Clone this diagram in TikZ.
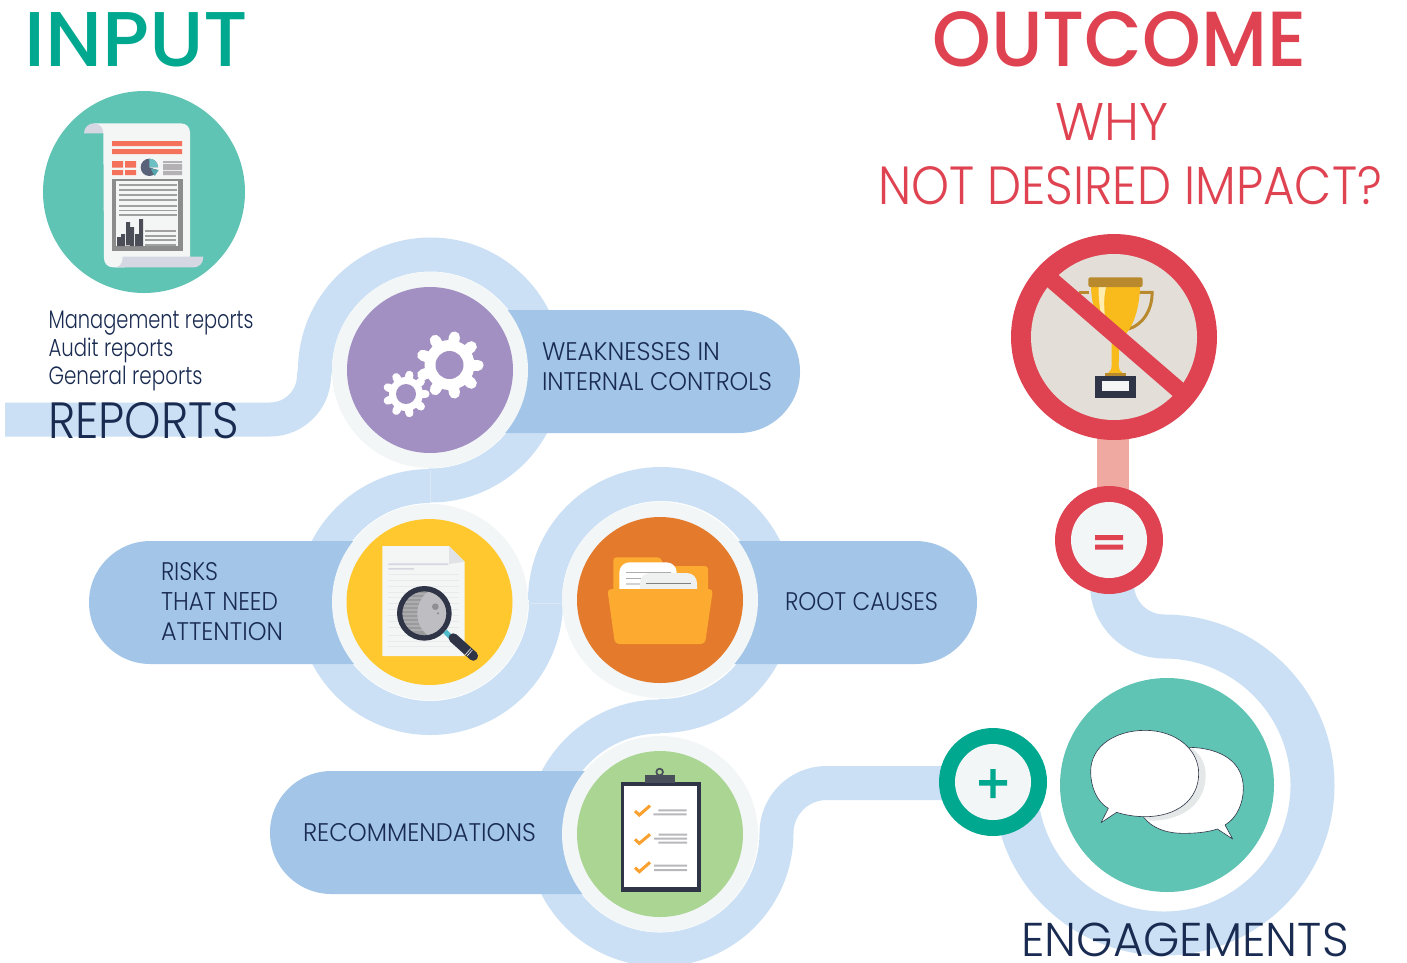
\documentclass[tikz,border=0pt]{standalone}
\usepackage{graphicx}
\usepackage{fontspec}
\setmainfont{Poppins}
\newfontfamily\lightf{Poppins Light}
\newfontfamily\medf{Poppins Medium}
\definecolor{bandc}{HTML}{CBE0F4}
\definecolor{pillc}{HTML}{A2C5E8}
\definecolor{ringc}{HTML}{F2F6F7}
\definecolor{navy}{HTML}{1A2B52}
\definecolor{tealc}{HTML}{60C4B5}
\definecolor{greenc}{HTML}{00A88F}
\definecolor{redc}{HTML}{DF4351}
\definecolor{purplec}{HTML}{A390C2}
\definecolor{yellowc}{HTML}{FFC82E}
\definecolor{orangec}{HTML}{E47A2B}
\definecolor{folderc}{HTML}{FDAA31}
\definecolor{leafc}{HTML}{ABD592}
\definecolor{darkc}{HTML}{2F3447}
\definecolor{paperc}{HTML}{F4F6F6}
\definecolor{curlc}{HTML}{D5D8E2}
\definecolor{coralc}{HTML}{F4715B}
\definecolor{greyc}{HTML}{A0A0A0}
\definecolor{goldc}{HTML}{F9BB1B}
\definecolor{brassc}{HTML}{B98A2D}
\definecolor{checkc}{HTML}{F9A02E}
\definecolor{seamc}{HTML}{DAE7F4}
\definecolor{linkc}{HTML}{F0A9A0}
\definecolor{piedark}{HTML}{5A6279}
\definecolor{pieteal}{HTML}{6CC0C4}
\definecolor{pieteald}{HTML}{55A7AC}
\definecolor{greyb}{HTML}{B3B1B3}
\definecolor{frameg}{HTML}{8C8C8C}
\definecolor{barc}{HTML}{4B4D57}
\definecolor{foldc}{HTML}{E0E2E6}
\definecolor{doclinea}{HTML}{D5D6E0}
\definecolor{doclineb}{HTML}{E8EAEC}
\definecolor{lensa}{HTML}{9A9A9D}
\definecolor{lensb}{HTML}{ADADB0}
\definecolor{lensc}{HTML}{BEBEC2}
\definecolor{lensd}{HTML}{8F8F93}
\definecolor{cyanc}{HTML}{4DBBC9}
\definecolor{foldline}{HTML}{7F8283}
\definecolor{sheetc}{HTML}{EFF1F1}
\definecolor{clipc}{HTML}{4A4F5C}
\definecolor{clipline}{HTML}{B8B8BC}
\definecolor{bandisc}{HTML}{E3DFD8}
\definecolor{shinec}{HTML}{FFEDB0}
\definecolor{shadowc}{HTML}{E4E8E8}
\tikzset{
  disc/.style={circle,inner sep=0pt,minimum size=#1,draw=none},
  bandline/.style={draw=bandc,line width=34pt,line cap=butt},
  pill/.style={rectangle,fill=pillc,rounded corners=61.4pt,minimum height=123pt,inner sep=0pt,draw=none},
  lbl/.style={anchor=base west,inner sep=0pt,outer sep=0pt},
  pilltext/.style={lbl,text=navy},
  px3/.style={x=0.33333pt,y=-0.33333pt}
}
\begin{document}
\begin{tikzpicture}[x=1pt,y=-1pt]
\useasboundingbox (0,0) rectangle (1407,962);
\clip (0,0) rectangle (1407,962);
\fill[white] (0,0) rectangle (1407,962);
% --- ribbon points
\coordinate (start) at (5,419.5);
\coordinate (c1) at (430,370);
\coordinate (c2) at (430,602);
\coordinate (c3) at (660,600);
\coordinate (c4) at (660,834);
\coordinate (c5) at (1164,785);
\coordinate (plusc) at (993,782);
\coordinate (plink) at (960,783);
\coordinate (eqc) at (1109,540);
\coordinate (banC) at (1114,337);
% --- ribbons
\draw[bandline] (start) -- (270,419.5) arc[start angle=90,end angle=0,radius=44] -- (315,370) arc[start angle=180,end angle=451,radius=115.5];
\draw[bandline] (c2) ++(90:-116) arc[start angle=270,end angle=-1,radius=116];
\draw[bandline] (545,600) arc[start angle=180,end angle=451,radius=116];
\draw[bandline] (c4) ++(0,-117.5) arc[start angle=270,end angle=0,radius=116.5] arc[start angle=180,end angle=270,radius=50] -- (plink);
\draw[bandc,line width=44pt] (1015.5,785) arc[start angle=180,end angle=-90,radius=148.5] arc[start angle=90,end angle=180,radius=52] -- (1112,540);
\draw[seamc,line width=0.5pt] (430,470) -- (430,502) (528,603) -- (562,603);
% --- pills
\node[pill,minimum width=370pt] (pweak) at (615,371.5) {};
\node[pill,minimum width=341pt] (prisk) at (259.5,602.5) {};
\node[pill,minimum width=317pt] (proot) at (818.5,602.5) {};
\node[pill,minimum width=390pt] (prec) at (465,832.5) {};
% --- link and rings
\fill[linkc] (1097,430) rectangle (1129,495);
\node[disc=196pt,fill=ringc] (r1) at (c1) {};
\node[disc=196pt,fill=ringc] (r2) at (c2) {};
\node[disc=196pt,fill=ringc] (r3) at (c3) {};
\node[disc=196pt,fill=ringc] (r4) at (c4) {};
\node[disc=166pt,fill=purplec] (gears) at (c1) {};
\node[disc=166pt,fill=yellowc] (docs) at (429.5,602) {};
\node[disc=166pt,fill=orangec] (folder) at (660,600) {};
\node[disc=166pt,fill=leafc] (clip) at (660,834) {};
% --- report badge
\node[disc=202pt,fill=tealc] (reportdisc) at (144,192) {};
\begin{scope}[shift={(30,80)},px3]
  \fill[paperc] (192,130) -- (452,130) .. controls (470,130) and (480,142) .. (480,158) -- (480,535) -- (285,535) -- (285,562) -- (250,562) .. controls (232,562) and (222,550) .. (222,534) -- (220,160) -- cycle;
  \fill[curlc] (162,160) .. controls (162,140) and (178,130) .. (192,130) .. controls (207,130) and (220,142) .. (220,160) -- cycle;
  \fill[curlc] (278,530) -- (520,530) .. controls (520,550) and (507,562) .. (492,562) -- (255,562) .. controls (270,562) and (278,550) .. (278,530) -- cycle;
  \fill[coralc] (246,183) rectangle (456,198) (246,207) rectangle (456,222)
     (246,243) rectangle (279,263) (285,243) rectangle (318,263)
     (246,270) rectangle (279,285) (285,270) rectangle (318,285);
  \fill[piedark] (358,262) circle (26);
  \fill[pieteal] (358,262) -- (358,236) arc[start angle=270,end angle=360,radius=26] -- cycle;
  \fill[paperc] (358,262) -- (384,262) -- (384,270) -- cycle;
  \fill[pieteald] (362,266) -- (386,270) -- (374,288) -- cycle;
  \fill[greyb] (399,243) rectangle (456,249) (399,252) rectangle (456,270) (399,273) rectangle (456,285);
  \fill[frameg] (247,296) rectangle (458,513);
  \fill[paperc] (258,303) rectangle (444,498);
  \foreach \yy in {315,330,344,360,378,391,405}
    \fill[greyc] (267,\yy-2.5) rectangle (441,\yy+2.5);
  \foreach \yy in {453,467,480,494}
    \fill[greyc] (345,\yy-2.5) rectangle (438,\yy+2.5);
  \fill[barc] (261,471) rectangle (273,498) (273,462) rectangle (285,498)
     (288,426) rectangle (300,496) (300,441) rectangle (312,498)
     (315,462) rectangle (327,498) (327,417) rectangle (339,498);
\end{scope}
% --- gears
\foreach \cx/\cy/\rb/\rt/\rh/\tw in {449.5/365/25/28.5/13.5/11,406/394/17/19.5/10/8}{
  \fill[white] (\cx,\cy) circle (\rb);
  \foreach \aa in {0,40,...,320}
    \draw[white,line width=\tw pt,line cap=round] (\cx,\cy) ++(\aa:\rb-2) -- ++(\aa:\rt-\rb+2);
}
\fill[purplec] (449.5,365) circle (14) (406,394) circle (10);
% --- magnifier
\begin{scope}[shift={(340,510)},px3]
  \fill[paperc] (127,108) -- (327,108) -- (374,155) -- (374,438) -- (127,438) -- cycle;
  \fill[foldc] (327,108) -- (374,155) -- (327,162) -- cycle;
  \fill[doclinea] (145,160) rectangle (325,165) (145,174) rectangle (222,179);
  \foreach \yy in {193,210.5,228,245.5,263,280.5,298,315.5,333,350.5,376,393,410}
    \fill[doclineb] (145,\yy-1) rectangle (358,\yy+1);
  \fill[lensa] (253,310) circle (70);
  \begin{scope}
    \clip (253,310) circle (70);
    \foreach \yy in {250,262,274,286,298,310,322,334,346,358}
      \fill[lensb] (180,\yy) rectangle (260,\yy+5);
    \fill[lensc] (272,240) .. controls (245,255) and (232,285) .. (232,310) .. controls (232,340) and (245,365) .. (272,382) -- (340,382) -- (340,240) -- cycle;
  \end{scope}
  \fill[lensd] (286,290) circle (10);
  \fill[lensd] (294,310) circle (4);
  \draw[darkc,line width=5.3pt] (253,310) circle (74);
  \draw[cyanc,line width=5pt] (315,364) -- (331,380);
  \draw[darkc,line width=9.5pt,line cap=round] (340,384) -- (400,438);
  \draw[paperc,line width=0.6pt] (376,434) -- (392,416) (381,438) -- (397,420);
\end{scope}
% --- folder
\begin{scope}[shift={(340,510)},px3]
  \fill[folderc,rounded corners=3pt] (820,260) -- (820,142) -- (962,142) -- (970,168) -- (1104,168) -- (1104,260) -- cycle;
  \fill[white,rounded corners=10pt] (838,300) -- (838,157) -- (1010,157) -- (1010,300) -- cycle;
  \fill[foldline] (858,186) rectangle (993,188) (858,204) rectangle (993,206) (858,221) rectangle (993,223);
  \fill[sheetc,rounded corners=10pt] (900,300) -- (900,189) -- (1071,189) -- (1071,300) -- cycle;
  \fill[foldline] (918,219) rectangle (1053,221);
  \fill[folderc,rounded corners=4pt] (802,237) -- (1119,237) -- (1095,402) -- (825,402) -- cycle;
\end{scope}
% --- clipboard
\begin{scope}[shift={(560,740)},px3]
  \fill[darkc] (182,127) rectangle (422,456);
  \fill[white] (193,138) rectangle (412,442);
  \draw[clipc,line width=1.7pt] (299,96) circle (10);
  \fill[clipc] (255,105) rectangle (346,130);
  \foreach \ya/\yb/\yc in {213/225/197,298/310/283,383/395/367}
    \draw[checkc,line width=3pt] (225,\ya) -- (238,\yb) -- (270,\yc);
  \fill[clipline] (295,208) rectangle (380,214) (280,220) rectangle (380,226)
     (296,281) rectangle (381,287) (282,293) rectangle (381,299) (295,305) rectangle (381,311)
     (282,374) rectangle (381,380) (282,387) rectangle (381,393);
\end{scope}
% --- outcome sign
\node[disc=206pt,fill=redc] (ban) at (banC) {};
\node[disc=166pt,fill=bandisc] (baninner) at (banC) {};
\begin{scope}[shift={(1000,225)},px3]
  \draw[brassc,line width=3pt] (238,202) -- (268,202);
  \draw[brassc,line width=3pt,line cap=round] (420,202) -- (456,202) .. controls (458,250) and (430,300) .. (385,312);
  \fill[goldc] (273,186) -- (420,186) .. controls (418,260) and (395,320) .. (358,345) -- (356,420) .. controls (356,435) and (362,440) .. (370,446) -- (322,446) .. controls (330,440) and (335,435) .. (335,420) -- (335,345) .. controls (300,320) and (276,260) .. (273,186) -- cycle;
  \fill[shinec] (296,186) -- (318,186) .. controls (310,220) and (312,250) .. (316,285) -- (303,270) .. controls (298,240) and (295,210) .. (296,186) -- cycle;
  \fill[brassc,rounded corners=2pt] (265,157) rectangle (428,186);
  \fill[brassc] (315,444) rectangle (378,452);
  \fill[darkc] (284,452) rectangle (408,518);
  \fill[paperc] (307,467) rectangle (386,498);
  \fill[redc] (157,134) -- (565,486) -- (533,526) -- (125,172) -- cycle;
\end{scope}
% --- equals
\node[disc=108pt,fill=redc] (eq) at (eqc) {};
\node[disc=76pt,fill=ringc] (eqin) at (eqc) {};
\fill[redc] (1095,535) rectangle (1123,540) (1095,544.5) rectangle (1123,549.5);
% --- engagements
\node[disc=214pt,fill=tealc] (talk) at (1167,785) {};
\begin{scope}[shift={(930,670)},px3]
  \draw[fill=white,draw=darkc,line width=0.6pt,line join=round] (780,232) .. controls (880,235) and (940,280) .. (940,355) .. controls (940,400) and (920,445) .. (885,465) -- (908,507) -- (862,477) .. controls (830,488) and (790,490) .. (760,490) .. controls (710,490) and (665,475) .. (640,440) -- cycle;
  \fill[shadowc] (785,235) .. controls (815,255) and (827,285) .. (827,315) .. controls (827,400) and (760,452) .. (660,452) -- (640,440) -- cycle;
  \draw[fill=white,draw=darkc,line width=0.6pt,line join=round] (535,415) .. controls (500,395) and (482,350) .. (482,305) .. controls (482,225) and (560,181) .. (645,181) .. controls (740,181) and (806,240) .. (806,310) .. controls (806,390) and (740,440) .. (645,440) .. controls (615,440) and (585,435) .. (560,427) -- (513,458) -- cycle;
\end{scope}
% --- plus
\node[disc=108pt,fill=greenc] (plus) at (plusc) {};
\node[disc=76pt,fill=ringc] (plusin) at (plusc) {};
\fill[greenc] (979,780) rectangle (1007,785.5) (990.3,769) rectangle (995.7,798);
% --- texts
\node[lbl,text=greenc] (tinput) at (24.5,66) {\resizebox{224pt}{54pt}{\medf INPUT}};
\node[lbl,text=redc] (toutcome) at (932.5,66) {\resizebox{374pt}{55pt}{\medf OUTCOME}};
\node[lbl,text=redc] (twhy) at (1055.5,140) {\resizebox{113pt}{37pt}{\lightf WHY}};
\node[lbl,text=redc] (tnot) at (878,204) {\resizebox{504pt}{38pt}{\lightf NOT DESIRED IMPACT?}};
\node[lbl,text=navy] (tm) at (48.5,328.5) {\resizebox{205pt}{17.5pt}{\lightf Management reports}};
\node[lbl,text=navy] (ta) at (48.5,356.5) {\resizebox{125pt}{18.5pt}{\lightf Audit reports}};
\node[lbl,text=navy] (tg) at (48.5,384.5) {\resizebox{154pt}{18.5pt}{\lightf General reports}};
\node[lbl,text=navy] (treports) at (48,438) {\resizebox{191pt}{36pt}{\lightf REPORTS}};
\node[lbl,text=navy] (tengage) at (1021.5,956) {\resizebox{327pt}{33.5pt}{\lightf ENGAGEMENTS}};
\node[pilltext] (w1) at (542,360) {\resizebox{178pt}{18pt}{\lightf WEAKNESSES IN}};
\node[pilltext] (w2) at (542,390) {\resizebox{230pt}{18pt}{\lightf INTERNAL CONTROLS}};
\node[pilltext] (k1) at (161,580) {\resizebox{57pt}{18pt}{\lightf RISKS}};
\node[pilltext] (k2) at (161,610) {\resizebox{117pt}{18pt}{\lightf THAT NEED}};
\node[pilltext] (k3) at (161,640) {\resizebox{122pt}{18pt}{\lightf ATTENTION}};
\node[pilltext] (rc) at (785,610) {\resizebox{153pt}{18pt}{\lightf ROOT CAUSES}};
\node[pilltext] (rm) at (303,841) {\resizebox{233pt}{18pt}{\lightf RECOMMENDATIONS}};
\end{tikzpicture}
\end{document}
